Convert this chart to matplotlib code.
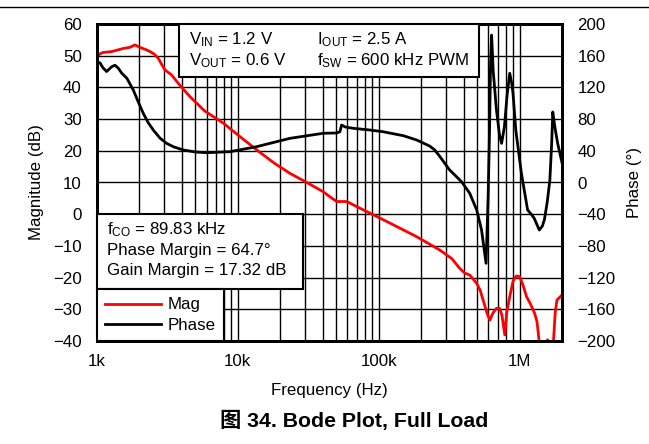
import matplotlib
matplotlib.use("Agg")
import matplotlib.pyplot as plt
from matplotlib.patches import Rectangle
from matplotlib.lines import Line2D
from matplotlib.ticker import FixedLocator, FixedFormatter, NullFormatter, LogLocator

plt.rcParams['font.family'] = ['Liberation Sans', 'DejaVu Sans']
plt.rcParams['mathtext.default'] = 'regular'

# ---------------- data ----------------
mag_freq = [1000, 1050, 1100, 1270, 1400, 1540, 1700, 1860, 2020, 2200, 2380, 2550, 2720,
            2900, 3040, 3390, 3900, 4570, 5800, 7900, 10000, 13600, 18000, 23400, 30000,
            40300, 45000, 50300, 59200, 69800, 89800, 120000,
            186000, 271000, 330000, 376000, 409000, 443000, 496000, 525000, 551000, 590000,
            615000, 635000, 650000, 685000, 722000, 750000, 785000, 810000, 851000, 900000,
            947000, 1000000, 1060000, 1120000, 1200000, 1280000, 1330000, 1380000, 1450000,
            1540000, 1580000, 1620000, 1700000, 1740000, 1790000, 1840000, 2000000]
mag_db = [49.7, 50.6, 51.0, 51.3, 51.8, 52.3, 52.6, 53.4, 52.6, 52.0, 51.3, 50.5, 49.2,
          47.0, 45.5, 43.9, 40.5, 37.1, 32.6, 28.7, 25.0, 20.3, 16.2, 12.9, 10.3,
          7.1, 5.5, 4.0, 4.0, 2.4, 0.0, -2.8,
          -7.1, -11.3, -14.0, -17.1, -18.6, -19.2, -21.8, -24.0, -27.1, -31.5,
          -33.4, -32.0, -31.0, -29.7, -29.7, -32.0, -38.1, -31.0, -26.0, -21.0,
          -19.5, -19.7, -22.5, -26.0, -28.5, -31.3, -34.0, -40.5, -43.0,
          -42.0, -39.6, -42.0, -43.0, -40.0, -31.0, -27.1, -25.5]

phase_freq = [1000, 1050, 1100, 1170, 1220, 1270, 1340, 1420, 1500, 1630, 1810, 1970,
              2130, 2300, 2510, 2800, 3120, 3500, 4100, 5000, 6000, 8800, 13600, 23400,
              40300, 50300, 53000, 54500, 58000, 65800, 86800, 107000, 150000, 186000,
              230000, 250000, 271000, 318000, 387000, 443000, 496000, 537000, 578000,
              598000, 612000, 622000, 633000, 650000, 685000, 720000, 745000, 780000,
              815000, 851000, 880000, 898000, 940000, 1030000, 1140000, 1210000, 1270000,
              1380000, 1450000, 1500000, 1570000, 1640000, 1690000, 1720000, 1780000,
              1860000, 2000000]
phase_deg = [152, 151, 145, 140, 143, 146, 148, 144, 137.8, 131.5, 116.7, 101,
             87.3, 76, 66.2, 56, 49.4, 45, 41.0, 38.5, 37.6, 38.9, 45.2, 55.7,
             62.1, 62.5, 64, 72.5, 70, 68.4, 66.2, 64.1, 59, 53.6,
             46, 41, 33, 16, 1, -13.7, -34.7, -60, -102,
             -18, 66, 150, 186, 140, 91.5, 60, 49.4, 70,
             110, 137.8, 125, 112.5, 66, 11.6, -34.7, -40, -45.2,
             -60, -55, -47, -25, 3, 50, 89, 70,
             50, 25]

mag_ticks = [60, 50, 40, 30, 20, 10, 0, -10, -20, -30, -40]
phase_ticks = [200, 160, 120, 80, 40, 0, -40, -80, -120, -160, -200]
x_ticks = [1e3, 1e4, 1e5, 1e6]
x_labels = ['1k', '10k', '100k', '1M']

# ---------------- figure ----------------
W, H = 649, 444
fig = plt.figure(figsize=(W / 100, H / 100), dpi=100)

def fx(x):
    return x / W

def fy(y):
    return 1 - y / H

FS = 12.2
ax = fig.add_axes([fx(97), fy(341), (562 - 97) / W, (341 - 24) / H])
ax.set_xscale('log')
ax.set_xlim(1e3, 2e6)
ax.set_ylim(-40, 60)
ax.set_yticks(mag_ticks)
ax.xaxis.set_major_locator(FixedLocator(x_ticks))
ax.xaxis.set_major_formatter(FixedFormatter(x_labels))
ax.xaxis.set_minor_locator(LogLocator(base=10, subs=range(2, 10)))
ax.xaxis.set_minor_formatter(NullFormatter())
ax.grid(which='both', color='black', linewidth=1.0)
ax.set_axisbelow(True)
ax.tick_params(which='both', length=0, labelsize=FS)
ax.tick_params(axis='y', pad=11)
ax.tick_params(axis='x', pad=9)
for s in ax.spines.values():
    s.set_linewidth(2)

ax.set_xlabel('Frequency (Hz)', fontsize=FS)
ax.xaxis.label.set_va('center')
ax.xaxis.set_label_coords(0.5, (341 - 390) / 317)
ax.set_ylabel('Magnitude (dB)', fontsize=FS)
ax.yaxis.label.set_va('center')
ax.yaxis.set_label_coords((36.5 - 97) / 465, 0.5)

l1, = ax.plot(mag_freq, mag_db, color='#ff0000', lw=2, label='Mag')

ax2 = ax.twinx()
ax2.set_ylim(-200, 200)
ax2.set_yticks(phase_ticks)
ax2.tick_params(length=0, labelsize=FS, pad=11)
for s in ax2.spines.values():
    s.set_linewidth(2)
ax2.set_ylabel('Phase (°)', fontsize=FS, rotation=90)
ax2.yaxis.label.set_va('center')
ax2.yaxis.set_label_coords((634 - 97) / 465, 0.5)
l2, = ax2.plot(phase_freq, phase_deg, color='black', lw=2, label='Phase')

# ---------------- annotation boxes ----------------
def box(x0, y0, x1, y1):
    ax2.add_patch(Rectangle((fx(x0), fy(y1)), fx(x1) - fx(x0), fy(y0) - fy(y1),
                            transform=fig.transFigure, facecolor='white',
                            edgecolor='black', lw=1.5, clip_on=False, zorder=10))

def txt(x, y, s):
    ax2.text(fx(x), fy(y), s, transform=fig.transFigure, fontsize=FS,
             ha='left', va='center', zorder=11)

box(179, 24, 479, 77)
txt(189, 40, 'V$_{IN}$ = 1.2 V')
txt(317, 40, 'I$_{OUT}$ = 2.5 A')
txt(189, 61, 'V$_{OUT}$ = 0.6 V')
txt(317, 61, 'f$_{SW}$ = 600 kHz PWM')

box(97, 214, 303, 289)
txt(107, 230, 'f$_{CO}$ = 89.83 kHz')
txt(107, 250, 'Phase Margin = 64.7°')
txt(107, 270, 'Gain Margin = 17.32 dB')

leg = ax2.legend(handles=[l1, l2], loc='upper left',
                 bbox_to_anchor=(fx(97), fy(289)), bbox_transform=fig.transFigure,
                 fontsize=FS, frameon=True, fancybox=False, framealpha=1,
                 edgecolor='black', handlelength=3.3, handletextpad=0.35,
                 borderpad=0.5, labelspacing=0.3, borderaxespad=0)
leg.get_frame().set_linewidth(1.5)
leg.set_zorder(12)

# top rule and caption
fig.add_artist(Line2D([0, 1], [fy(7.5), fy(7.5)], transform=fig.transFigure,
                      color='black', lw=1))
fig.text(fx(354), fy(421), '图 34. Bode Plot, Full Load', fontsize=15.3,
         fontweight='bold', ha='center', va='center',
         family=['Liberation Sans', 'Noto Sans CJK SC'])

fig.savefig('out.png', dpi=100)
